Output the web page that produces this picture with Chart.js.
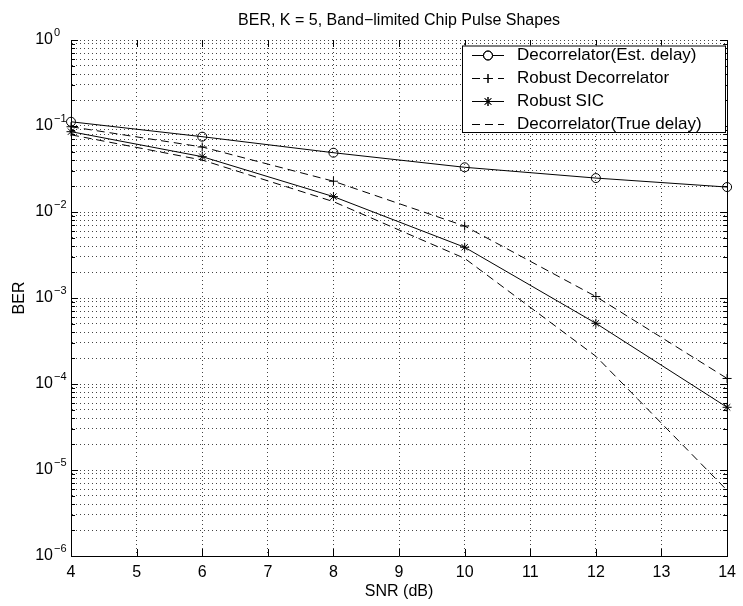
<!DOCTYPE html>
<html>
<head>
<meta charset="utf-8">
<script src="https://cdn.jsdelivr.net/npm/chart.js@4.4.1/dist/chart.umd.min.js"></script>
<style>
  html, body { margin: 0; padding: 0; background: #fff; }
  canvas { display: block; }
</style>
</head>
<body>
<canvas id="ber" width="743" height="606"></canvas>
<script>
// values
const snr = [4, 6, 8, 10, 12, 14]
const berEstDelay  = [0.112, 0.0751, 0.0489, 0.0331, 0.0248, 0.0195]
const berRobustDec = [0.098, 0.057, 0.0228, 0.00687, 0.00104, 0.000116]
const berRobustSic = [0.0859, 0.044, 0.0151, 0.00389, 0.000508, 0.0000536]
const berTrueDelay = [0.079, 0.0402, 0.0132, 0.00289, 0.00021, 0.0000058]
const seriesLabels = ["Decorrelator(Est. delay)", "Robust Decorrelator", "Robust SIC", "Decorrelator(True delay)"]
const xTicks = [4, 5, 6, 7, 8, 9, 10, 11, 12, 13, 14]
const yDecades = [-6, -5, -4, -3, -2, -1, 0]
const chartTitle = "BER, K = 5, Band\u2212limited Chip Pulse Shapes"

const FONT = "'Liberation Sans', Arial, Helvetica, sans-serif"
const gridColor = "#444"
const dash = [8, 5]

const makeDataset = (label, data, extra) => ({
  label,
  data: snr.map((x, i) => ({ x, y: data[i] })),
  borderColor: "#000",
  backgroundColor: "transparent",
  borderWidth: 1,
  pointBorderColor: "#000",
  pointBackgroundColor: "transparent",
  pointBorderWidth: 1,
  pointRadius: 4.5,
  tension: 0,
  clip: false,
  ...extra
})

const datasets = [
  makeDataset(seriesLabels[0], berEstDelay,  { pointStyle: "circle", pointRadius: 4.5 }),
  makeDataset(seriesLabels[1], berRobustDec, { pointStyle: "cross", pointRadius: 4.5, borderDash: dash }),
  makeDataset(seriesLabels[2], berRobustSic, { pointStyle: "star", pointRadius: 4.5 }),
  makeDataset(seriesLabels[3], berTrueDelay, { pointRadius: 0, borderDash: dash })
]

// inward tick marks, right border, title over the plot, y labels as 10^n
const framePlugin = {
  id: "frame",
  afterDatasetsDraw(chart) {
    const { ctx, chartArea: a, scales: { x, y } } = chart
    ctx.save()
    ctx.strokeStyle = "#000"
    ctx.lineWidth = 1
    ctx.beginPath()
    y.ticks.forEach(t => {
      const py = Math.round(y.getPixelForValue(t.value)) + 0.5
      const len = t.major ? 7 : 4
      ctx.moveTo(a.left, py); ctx.lineTo(a.left + len, py)
      ctx.moveTo(a.right, py); ctx.lineTo(a.right - len, py)
    })
    x.ticks.forEach(t => {
      const px = Math.round(x.getPixelForValue(t.value)) + 0.5
      ctx.moveTo(px, a.bottom); ctx.lineTo(px, a.bottom - 7)
      ctx.moveTo(px, a.top); ctx.lineTo(px, a.top + 7)
    })
    const rx = Math.round(a.right) + 0.5
    ctx.moveTo(rx, a.top); ctx.lineTo(rx, a.bottom)
    ctx.stroke()

    ctx.fillStyle = "#000"
    ctx.font = "16px " + FONT
    ctx.textAlign = "center"
    ctx.textBaseline = "middle"
    ctx.fillText(chartTitle, (a.left + a.right) / 2, 21)

    yDecades.forEach(e => {
      const py = y.getPixelForValue(Math.pow(10, e))
      ctx.font = "16px " + FONT
      ctx.textAlign = "right"
      ctx.textBaseline = "middle"
      ctx.fillText("10", a.left - 18, py)
      ctx.font = "11px " + FONT
      ctx.textAlign = "left"
      ctx.textBaseline = "alphabetic"
      ctx.fillText(e === 0 ? "0" : "\u2212" + (-e), a.left - 17, py - 4)
    })
    ctx.restore()
  }
}

// MATLAB style legend box, top right
const legendPlugin = {
  id: "matlabLegend",
  afterDraw(chart) {
    const { ctx } = chart
    const box = { left: 462, top: 45.5, right: 725, bottom: 132 }
    ctx.save()
    ctx.fillStyle = "#fff"
    ctx.fillRect(box.left, box.top, box.right - box.left, box.bottom - box.top)
    ctx.strokeStyle = "#000"
    ctx.lineWidth = 1
    ctx.strokeRect(box.left + 0.5, box.top + 0.5, box.right - box.left, box.bottom - box.top)
    chart.data.datasets.forEach((ds, i) => {
      const cy = 55.5 + i * 23
      ctx.strokeStyle = "#000"
      ctx.setLineDash(ds.borderDash || [])
      ctx.beginPath()
      ctx.moveTo(472, cy); ctx.lineTo(504, cy)
      ctx.stroke()
      ctx.setLineDash([])
      if (ds.pointRadius > 0) {
        Chart.helpers.drawPoint(ctx, {
          pointStyle: ds.pointStyle, radius: ds.pointRadius, rotation: 0, borderWidth: 1
        }, 488, cy)
        ctx.stroke()
      }
      ctx.fillStyle = "#000"
      ctx.font = "17px " + FONT
      ctx.textAlign = "left"
      ctx.textBaseline = "middle"
      ctx.fillText(ds.label, 517, cy)
    })
    ctx.restore()
  }
}

new Chart(document.getElementById("ber"), {
  type: "line",
  data: { datasets },
  plugins: [framePlugin, legendPlugin],
  options: {
    responsive: false,
    animation: false,
    events: [],
    layout: { padding: { left: 0, right: 11, top: 40, bottom: 0 } },
    plugins: {
      legend: { display: false },
      tooltip: { enabled: false },
      title: { display: false }
    },
    scales: {
      x: {
        type: "linear",
        min: 4,
        max: 14,
        afterBuildTicks: s => { s.ticks = xTicks.map(v => ({ value: v })) },
        afterFit: s => { s.height = 50 },
        ticks: { color: "#000", font: { family: FONT, size: 16 }, padding: 7, maxRotation: 0, autoSkip: false },
        grid: { color: gridColor, drawTicks: false },
        border: { display: true, color: "#000", width: 1, dash: [1, 3] },
        title: { display: true, text: "SNR (dB)", color: "#000", font: { family: FONT, size: 16 }, padding: { top: 0, bottom: 5 } }
      },
      y: {
        type: "logarithmic",
        min: 1e-6,
        max: 1,
        afterBuildTicks: s => {
          const ticks = []
          yDecades.forEach(e => {
            for (let m = 1; m <= 9; m++) {
              const v = m * Math.pow(10, e)
              if (v <= 1 + 1e-12) ticks.push({ value: v, major: m === 1 })
            }
          })
          s.ticks = ticks
        },
        afterFit: s => { s.width = 71 },
        ticks: { display: false },
        grid: { color: gridColor, drawTicks: false },
        border: { display: true, color: "#000", width: 1, dash: [1, 3] },
        title: { display: true, text: "BER", color: "#000", font: { family: FONT, size: 16 }, padding: { top: 10, bottom: 0 } }
      }
    }
  }
})
</script>
</body>
</html>
